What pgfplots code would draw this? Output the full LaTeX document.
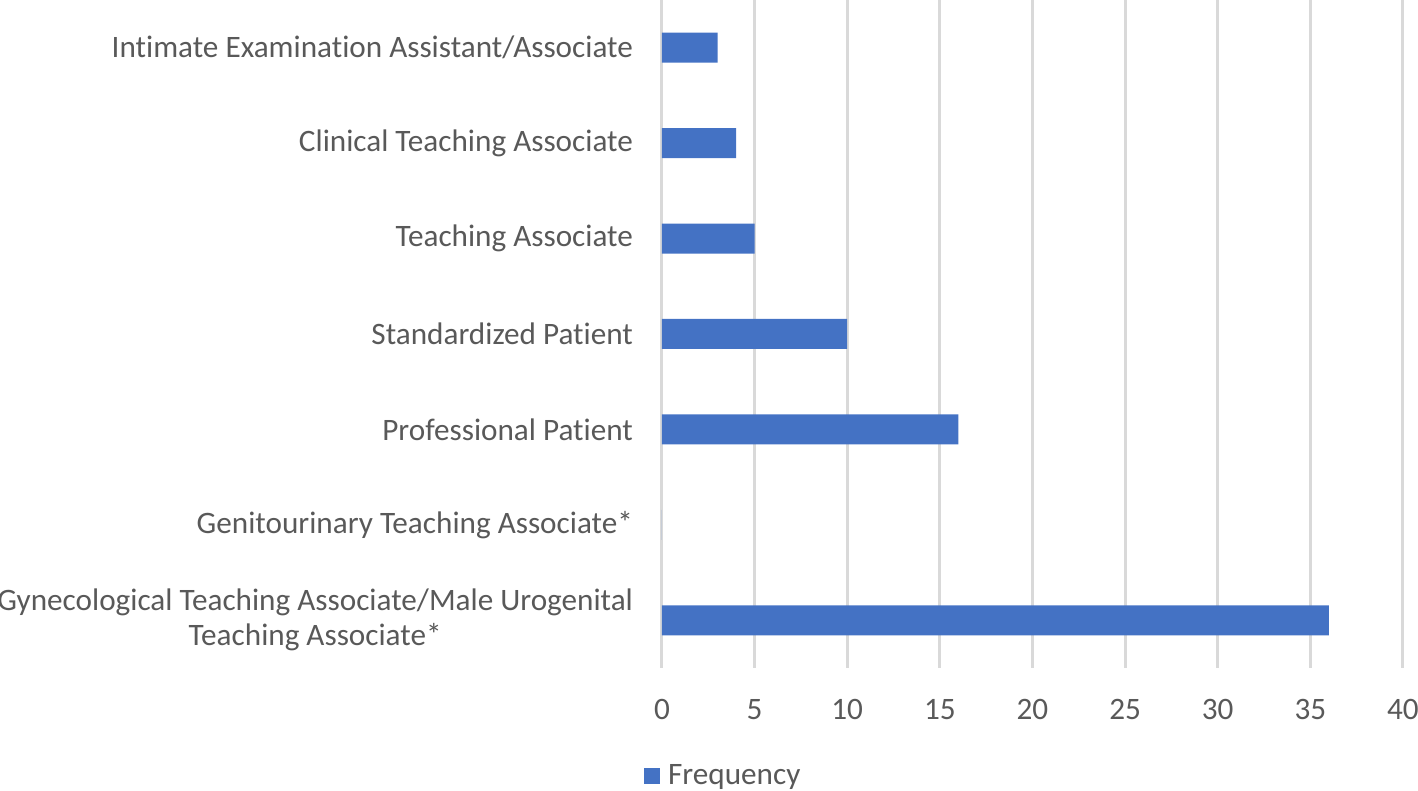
\documentclass[border=0pt]{standalone}
\usepackage{pgfplots}
\pgfplotsset{compat=1.18}
\usepackage{fontspec}
\setmainfont{Carlito}[Ligatures=NoCommon]
\definecolor{txt}{HTML}{595959}
\definecolor{grid}{HTML}{D9D9D9}
\definecolor{bar}{HTML}{4472C4}
\begin{document}
\begin{tikzpicture}
\useasboundingbox (-331pt,-61.5pt) rectangle (378pt,334pt);
\begin{axis}[
  at={(0,0)}, anchor=south west,
  scale only axis, width=370.5pt, height=334pt,
  xbar, bar width=15pt,
  xmin=0, xmax=40, xtick={0,5,...,40},
  ymin=-0.5, ymax=6.5,
  ytick={0,1,2,3,4,5,6},
  yticklabels={{Gynecological Teaching Associate/Male Urogenital\\Teaching Associate*},
    {Genitourinary Teaching Associate*},{Professional Patient},{Standardized Patient},
    {Teaching Associate},{Clinical Teaching Associate},{Intimate Examination Assistant/Associate}},
  yticklabel style={align=center, font=\fontsize{15.6}{17.5}\selectfont, text=txt, xshift=-11pt},
  xticklabel style={font=\fontsize{15.6}{17}\selectfont, text=txt, yshift=-12pt},
  /pgf/number format/assume math mode=true,
  axis line style={draw=none},
  major tick length=0pt,
  xmajorgrids, major grid style={draw=grid, line width=1.5pt},
  legend style={at={(0.084,-0.162)}, anchor=center, draw=none, font=\fontsize{15.6}{17}\selectfont, text=txt},
]
\addplot[fill=bar, draw=none,
  legend image code/.code={\fill[bar] (0pt,-4pt) rectangle (8pt,4pt);}]
  coordinates {(36,0) (0,1) (16,2) (10,3) (5,4) (4,5) (3,6)};
\addlegendentry{\hspace{2pt}Frequency}
\end{axis}
\end{tikzpicture}
\end{document}
